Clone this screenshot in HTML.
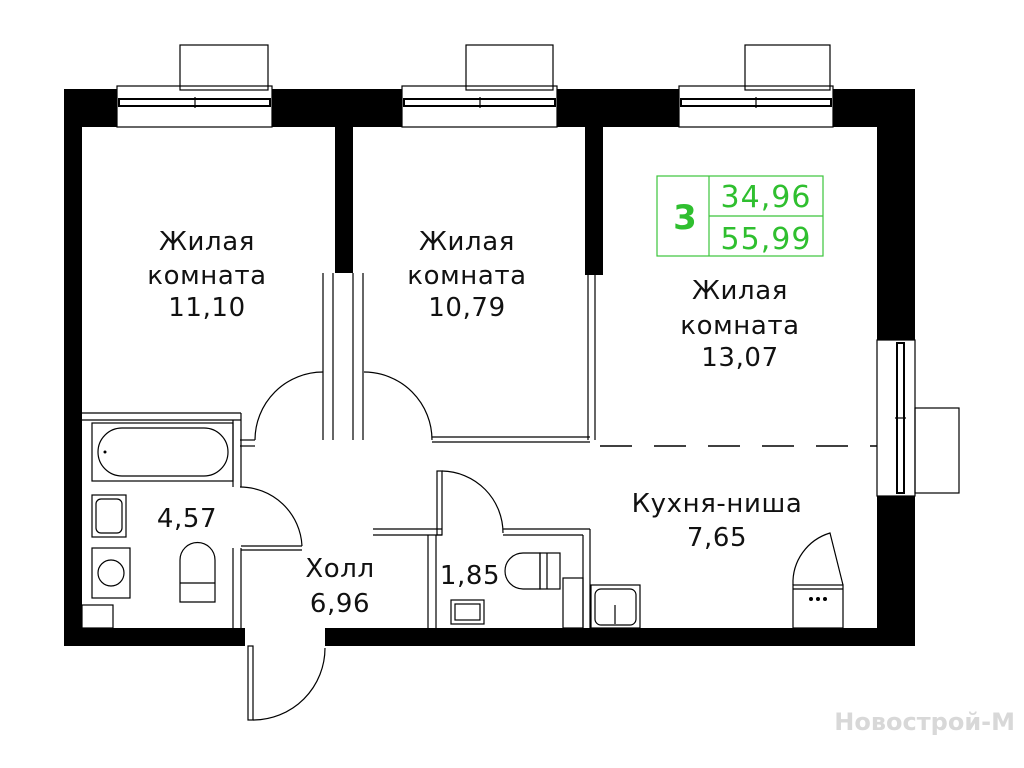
<!DOCTYPE html>
<html><head><meta charset="utf-8"><style>
html,body{margin:0;padding:0;background:#fff;}
svg{display:block;}
text{font-family:"DejaVu Sans","Liberation Sans",sans-serif;}
</style></head><body>
<svg width="1024" height="768" viewBox="0 0 1024 768" xmlns="http://www.w3.org/2000/svg">
<rect width="1024" height="768" fill="#fff"/>
<g fill="#000">
<rect x="64" y="89" width="851" height="38"/>
<rect x="64" y="89" width="18" height="557"/>
<rect x="64" y="628" width="181" height="18"/>
<rect x="325" y="628" width="590" height="18"/>
<rect x="877" y="89" width="38" height="252"/>
<rect x="877" y="496" width="38" height="150"/>
<rect x="335" y="127" width="18" height="146"/>
<rect x="585" y="127" width="18" height="148"/>
</g>
<g fill="#fff" stroke="#000" stroke-width="1.2">
<rect x="117" y="86" width="155" height="41"/>
<rect x="402" y="86" width="155" height="41"/>
<rect x="679" y="86" width="154" height="41"/>
<rect x="877" y="340" width="38" height="156"/>
</g>
<g fill="none" stroke="#000" stroke-width="1.2">
<rect x="119" y="99" width="151" height="7" stroke-width="2"/>
<rect x="404" y="99" width="151" height="7" stroke-width="2"/>
<rect x="681" y="99" width="150" height="7" stroke-width="2"/>
<line x1="195" y1="97" x2="195" y2="108"/><line x1="480" y1="97" x2="480" y2="108"/><line x1="756" y1="97" x2="756" y2="108"/>
<rect x="897" y="343" width="7" height="150" stroke-width="2"/>
<line x1="895" y1="418" x2="906" y2="418"/>
<rect x="180" y="45" width="88" height="45"/>
<rect x="466" y="45" width="87" height="45"/>
<rect x="745" y="45" width="85" height="45"/>
<rect x="915" y="408" width="44" height="85"/>
<line x1="323" y1="273" x2="323" y2="440"/><line x1="333" y1="273" x2="333" y2="440"/>
<line x1="353" y1="273" x2="353" y2="440"/><line x1="363" y1="273" x2="363" y2="440"/>
<line x1="588" y1="275" x2="588" y2="440"/><line x1="595" y1="275" x2="595" y2="440"/>
<line x1="432" y1="437" x2="590" y2="437"/><line x1="432" y1="442" x2="590" y2="442"/>
<line x1="600" y1="446" x2="877" y2="446" stroke-dasharray="32,22" stroke-width="1.5"/>
<path d="M255 440 A68 68 0 0 1 323 372"/>
<line x1="240" y1="440" x2="255" y2="440"/><line x1="240" y1="446" x2="255" y2="446"/>
<path d="M432 440 A68 68 0 0 0 364 372"/>
<line x1="82" y1="413" x2="241" y2="413"/><line x1="82" y1="420" x2="241" y2="420"/>
<line x1="233" y1="420" x2="233" y2="487"/><line x1="241" y1="413" x2="241" y2="487"/>
<rect x="92" y="423" width="141" height="58"/>
<rect x="98" y="428" width="130" height="48" rx="24"/>
<line x1="233" y1="548" x2="233" y2="628"/><line x1="241" y1="548" x2="241" y2="628"/>
<line x1="241" y1="546" x2="302" y2="546"/><line x1="241" y1="550" x2="302" y2="550"/>
<path d="M302 546 A62 62 0 0 0 240 487"/>
<rect x="92" y="495" width="34" height="42"/><rect x="96" y="499" width="26" height="34" rx="5"/>
<rect x="92" y="548" width="38" height="50"/><circle cx="111" cy="573" r="13"/>
<path d="M180 602 V560 A17 17 0 0 1 215 560 V602 Z"/><line x1="180" y1="583" x2="215" y2="583"/>
<rect x="82" y="605" width="31" height="23"/>
<rect x="248" y="646" width="5" height="74"/>
<path d="M253 720 A72 72 0 0 0 325 648"/>
<line x1="373" y1="529" x2="442" y2="529"/><line x1="373" y1="535" x2="442" y2="535"/>
<line x1="428" y1="535" x2="428" y2="628"/><line x1="436" y1="535" x2="436" y2="628"/>
<rect x="437" y="471" width="5" height="64"/>
<path d="M442 471 A62 62 0 0 1 503 533"/>
<line x1="503" y1="529" x2="590" y2="529"/><line x1="503" y1="535" x2="583" y2="535"/>
<line x1="583" y1="535" x2="583" y2="628"/><line x1="590" y1="529" x2="590" y2="628"/>
<path d="M540 553 H523 A18 18 0 0 0 523 589 H540 Z"/><rect x="540" y="553" width="20" height="36"/><line x1="547" y1="553" x2="547" y2="589"/>
<rect x="563" y="578" width="20" height="50"/>
<rect x="451" y="600" width="33" height="24"/><rect x="455" y="604" width="25" height="16"/>
<rect x="591" y="585" width="49" height="43"/><rect x="595" y="589" width="41" height="36" rx="6"/>
<line x1="615" y1="605" x2="615" y2="624"/>
<rect x="793" y="585" width="50" height="43"/><line x1="793" y1="589" x2="843" y2="589"/>
<path d="M793 585 A52 52 0 0 1 830 533 L843 585"/>
</g>
<g fill="#000"><circle cx="811" cy="599" r="2"/><circle cx="818" cy="599" r="2"/><circle cx="825" cy="599" r="2"/><circle cx="105" cy="452" r="1.5"/></g>
<g fill="none" stroke="#3bc43b" stroke-width="1.2">
<rect x="657" y="176" width="166" height="80"/>
<line x1="709" y1="176" x2="709" y2="256"/><line x1="709" y1="216" x2="823" y2="216"/>
</g>
<g fill="#2fbf2f" text-anchor="middle">
<text x="685" y="229" font-size="34" font-weight="bold">3</text>
<text x="766" y="207" font-size="30" letter-spacing="1">34,96</text>
<text x="766" y="249" font-size="30" letter-spacing="1">55,99</text>
</g>
<g fill="#111" font-size="26" text-anchor="middle" letter-spacing="0.6">
<text x="207" y="250">Жилая</text><text x="207" y="284">комната</text><text x="207" y="316">11,10</text>
<text x="467" y="250">Жилая</text><text x="467" y="284">комната</text><text x="467" y="316">10,79</text>
<text x="740" y="299">Жилая</text><text x="740" y="334">комната</text><text x="740" y="366">13,07</text>
<text x="717" y="512">Кухня-ниша</text><text x="717" y="546">7,65</text>
<text x="187" y="527">4,57</text>
<text x="340" y="577">Холл</text><text x="340" y="612">6,96</text>
<text x="470" y="584">1,85</text>
</g>
<text x="1015" y="730" font-size="24" fill="#d8d8d8" font-weight="bold" text-anchor="end" font-family="Liberation Sans Narrow, Liberation Sans, sans-serif">Новострой-М</text>
</svg>
</body></html>
